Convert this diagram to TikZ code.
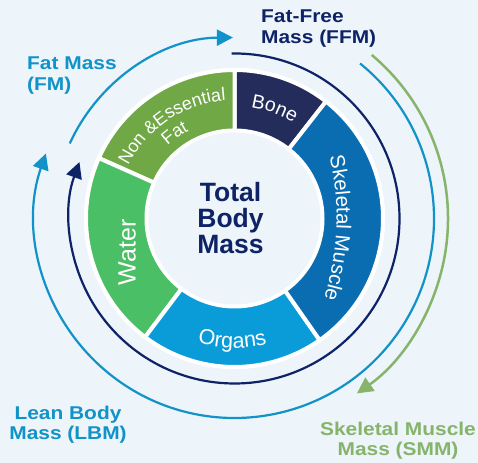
\documentclass[tikz,border=0pt]{standalone}
\usepackage{fontspec}
\setmainfont{Liberation Sans}
\newfontfamily\widefont{Liberation Sans}[FakeStretch=1.13]
\usepackage{xcolor}
\usepackage{tikz}
\usetikzlibrary{arrows.meta,calc,decorations.text}

\definecolor{pagebg}{HTML}{EDF4FA}
\definecolor{navy}{HTML}{0E2366}
\definecolor{bone}{HTML}{232C5B}
\definecolor{muscle}{HTML}{0B6DB1}
\definecolor{organs}{HTML}{0A9CD8}
\definecolor{water}{HTML}{4BBF65}
\definecolor{fat}{HTML}{70A846}
\definecolor{fmblue}{HTML}{1193C9}
\definecolor{smmgreen}{HTML}{86B46B}

\begin{document}
\begin{tikzpicture}[x=1bp, y=1bp,
    outer/.style={font=\widefont\bfseries\fontsize{18.5bp}{20.5bp}\selectfont, inner sep=0pt},
    ring/.style={line width=2.2bp, -{Triangle[length=16bp, width=16bp]}},
    seglabel/.style 2 args={decorate, decoration={text along path, text align=center,
        text color=white, text={|\fontsize{#1}{#1}\selectfont|#2}}}
]
    \useasboundingbox (0,0) rectangle (478,463);
    \fill[pagebg] (0,0) rectangle (478,463);
    \coordinate (o) at (234.5,244.5);

    % donut of the five compartments
    \fill[white] (o) circle[radius=150.5];
    \foreach \a/\b/\c in {52/90/bone, 90/156/fat, 156/233/water, 233/305/organs, -55/52/muscle}
        \filldraw[fill=\c, draw=white, line width=4bp]
            ($(o)+(\a:148.5)$) arc[start angle=\a, end angle=\b, radius=148.5]
            -- ($(o)+(\b:88)$) arc[start angle=\b, end angle=\a, radius=88] -- cycle;
    \fill[pagebg] (o) circle[radius=86];

    \path[seglabel={19.5bp}{Bone}] ($(o)+(92:112.5)$) arc[start angle=92, end angle=48, radius=112.5];
    \path[seglabel={18bp}{Non {\&}Essential}] ($(o)+(160:118.5)$) arc[start angle=160, end angle=88, radius=118.5];
    \path[seglabel={18bp}{Fat}] ($(o)+(160:99)$) arc[start angle=160, end angle=90, radius=99];
    \path[seglabel={25bp}{Water}] (135.5,171) -- (135.5,250);
    \path[seglabel={21.5bp}{Organs}] ($(o)+(229:129.5)$) arc[start angle=229, end angle=309, radius=129.5];
    \path[seglabel={20.5bp}{Skeletal Muscle}] (328,313) .. controls (341.5,261.3) and (339,209.7) .. (322,158);

    \node[navy, font=\bfseries\fontsize{26.5bp}{26bp}\selectfont, align=center, inner sep=0pt] (tbm) at (230.5,244.5) {Total\\Body\\Mass};

    % mass arrows round the donut
    \draw[ring, navy] ($(o)+(91:165)$) arc[start angle=91, end angle=-200, radius=165];
    \draw[ring, fmblue] ($(o)+(155.5:181)$) arc[start angle=155.5, end angle=90.5, radius=181];
    \draw[ring, fmblue] ($(o)+(51:199.5)$) arc[start angle=51, end angle=-199, radius=199.5];
    \draw[ring, smmgreen, line width=2.5bp] ($(o)+(50:213.5)$) arc[start angle=50, end angle=-55, radius=213.5];

    \node[outer, navy, anchor=north west, align=left] (ffm) at (261,453.3) {Fat-Free\\Mass (FFM)};
    \node[outer, fmblue, anchor=north west, align=left] (fm) at (27,406.3) {Fat Mass\\(FM)};
    \node[outer, fmblue, anchor=north, align=center] (lbm) at (68,57.3) {Lean Body\\Mass (LBM)};
    \node[outer, smmgreen, anchor=north, align=center] (smm) at (398,41.5) {Skeletal Muscle\\Mass (SMM)};
\end{tikzpicture}
\end{document}
